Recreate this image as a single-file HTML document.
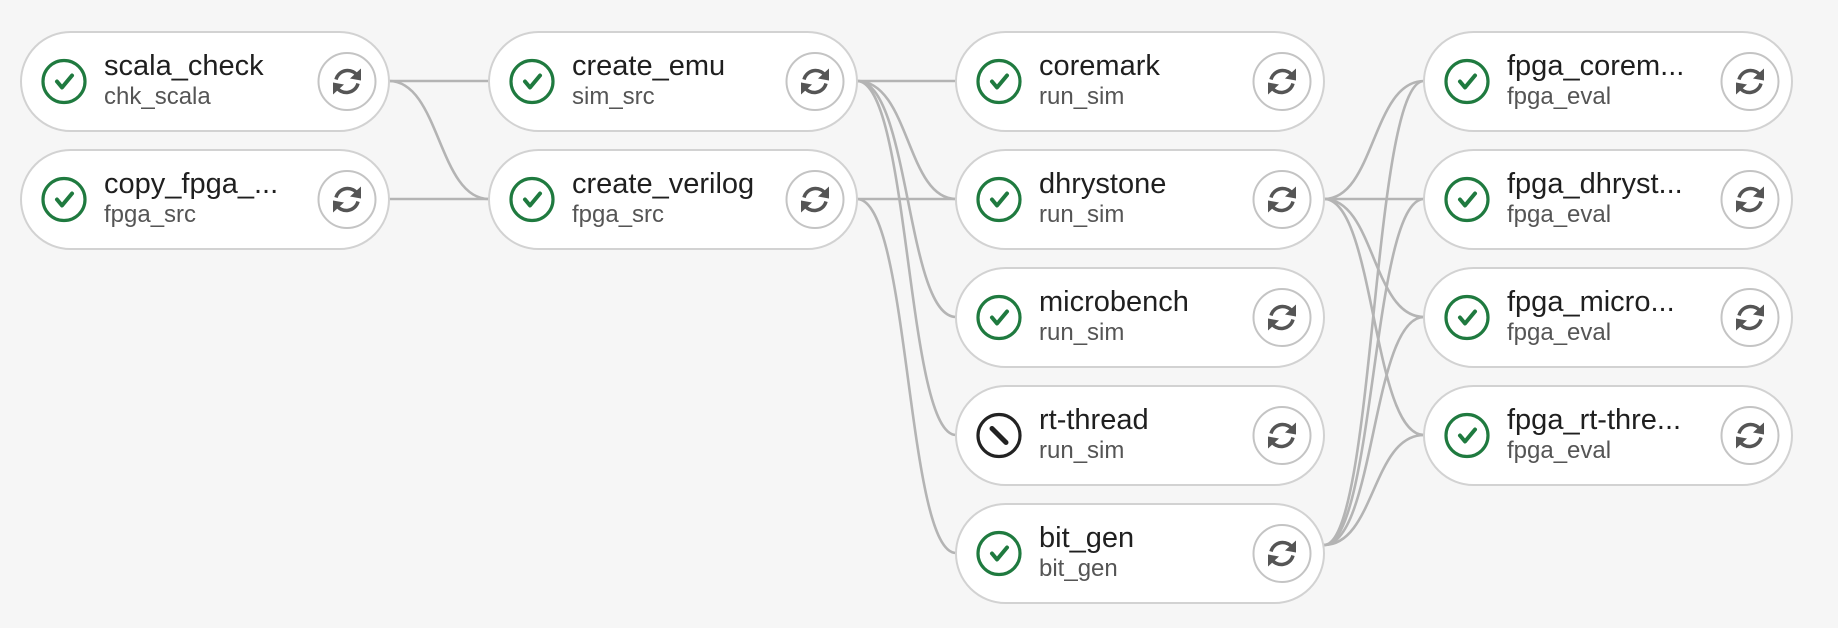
<!DOCTYPE html>
<html><head><meta charset="utf-8"><style>
html,body{margin:0;padding:0;background:#f6f6f6;}
svg{display:block}
text{font-family:"Liberation Sans",sans-serif}
</style></head><body>
<svg width="1838" height="628" viewBox="0 0 1838 628" xmlns="http://www.w3.org/2000/svg">
<rect width="1838" height="628" fill="#f6f6f6"/>
<defs>
<g id="retry">
<circle r="28.5" fill="#fff" stroke="#c4c4c4" stroke-width="2"/>
<path d="M-11,5 A12,12 0 0 0 11,2" fill="none" stroke="#555" stroke-width="3.5"/>
<path d="M11,-5 A12,12 0 0 0 -11,-2" fill="none" stroke="#555" stroke-width="3.5"/>
<path d="M14,-13 L14,-1 L3,-3 Z" fill="#555"/>
<path d="M-14,13 L-14,1 L-3,3 Z" fill="#555"/>
</g>
<g id="ok">
<circle r="21" fill="#fff" stroke="#1f7a3f" stroke-width="3.2"/>
<path d="M-7,0 L-2,6 L8,-6" fill="none" stroke="#1f7a3f" stroke-width="4" stroke-linecap="round" stroke-linejoin="round"/>
</g>
<g id="skip">
<circle r="21" fill="#fff" stroke="#222" stroke-width="3.2"/>
<path d="M-7,-7 L7,7" stroke="#222" stroke-width="5" stroke-linecap="round"/>
</g>
</defs>
<g fill="none" stroke="#b4b4b4" stroke-width="2.6">
<path d="M389,81 L489,81"/>
<path d="M389,81 C440,81 438,199 489,199"/>
<path d="M389,199 L489,199"/>
<path d="M857,81 L956,81"/>
<path d="M857,81 C910,81 906,199 956,199"/>
<path d="M857,81 C910,81 906,317 956,317"/>
<path d="M857,81 C910,81 906,435 956,435"/>
<path d="M857,199 L956,199"/>
<path d="M857,199 C910,199 906,553 956,553"/>
<path d="M1324,199 C1375,199 1372,81 1424,81"/>
<path d="M1324,199 L1424,199"/>
<path d="M1324,199 C1375,199 1372,317 1424,317"/>
<path d="M1324,199 C1375,199 1372,435 1424,435"/>
<path d="M1324,545 C1375,545 1372,81 1424,81"/>
<path d="M1324,545 C1375,545 1372,199 1424,199"/>
<path d="M1324,545 C1375,545 1372,317 1424,317"/>
<path d="M1324,545 C1375,545 1372,435 1424,435"/>
</g>
<g>
<g transform="translate(21,32)"><rect width="368" height="99" rx="49.5" fill="#fff" stroke="#d2d2d2" stroke-width="2"/><use href="#ok" x="43" y="49.5"/><text x="83" y="43" font-size="29" fill="#1f1f1f">scala_check</text><text x="83" y="72" font-size="24" fill="#555">chk_scala</text><use href="#retry" x="326" y="49.5"/></g>
<g transform="translate(21,150)"><rect width="368" height="99" rx="49.5" fill="#fff" stroke="#d2d2d2" stroke-width="2"/><use href="#ok" x="43" y="49.5"/><text x="83" y="43" font-size="29" fill="#1f1f1f">copy_fpga_...</text><text x="83" y="72" font-size="24" fill="#555">fpga_src</text><use href="#retry" x="326" y="49.5"/></g>
<g transform="translate(489,32)"><rect width="368" height="99" rx="49.5" fill="#fff" stroke="#d2d2d2" stroke-width="2"/><use href="#ok" x="43" y="49.5"/><text x="83" y="43" font-size="29" fill="#1f1f1f">create_emu</text><text x="83" y="72" font-size="24" fill="#555">sim_src</text><use href="#retry" x="326" y="49.5"/></g>
<g transform="translate(489,150)"><rect width="368" height="99" rx="49.5" fill="#fff" stroke="#d2d2d2" stroke-width="2"/><use href="#ok" x="43" y="49.5"/><text x="83" y="43" font-size="29" fill="#1f1f1f">create_verilog</text><text x="83" y="72" font-size="24" fill="#555">fpga_src</text><use href="#retry" x="326" y="49.5"/></g>
<g transform="translate(956,32)"><rect width="368" height="99" rx="49.5" fill="#fff" stroke="#d2d2d2" stroke-width="2"/><use href="#ok" x="43" y="49.5"/><text x="83" y="43" font-size="29" fill="#1f1f1f">coremark</text><text x="83" y="72" font-size="24" fill="#555">run_sim</text><use href="#retry" x="326" y="49.5"/></g>
<g transform="translate(956,150)"><rect width="368" height="99" rx="49.5" fill="#fff" stroke="#d2d2d2" stroke-width="2"/><use href="#ok" x="43" y="49.5"/><text x="83" y="43" font-size="29" fill="#1f1f1f">dhrystone</text><text x="83" y="72" font-size="24" fill="#555">run_sim</text><use href="#retry" x="326" y="49.5"/></g>
<g transform="translate(956,268)"><rect width="368" height="99" rx="49.5" fill="#fff" stroke="#d2d2d2" stroke-width="2"/><use href="#ok" x="43" y="49.5"/><text x="83" y="43" font-size="29" fill="#1f1f1f">microbench</text><text x="83" y="72" font-size="24" fill="#555">run_sim</text><use href="#retry" x="326" y="49.5"/></g>
<g transform="translate(956,386)"><rect width="368" height="99" rx="49.5" fill="#fff" stroke="#d2d2d2" stroke-width="2"/><use href="#skip" x="43" y="49.5"/><text x="83" y="43" font-size="29" fill="#1f1f1f">rt-thread</text><text x="83" y="72" font-size="24" fill="#555">run_sim</text><use href="#retry" x="326" y="49.5"/></g>
<g transform="translate(956,504)"><rect width="368" height="99" rx="49.5" fill="#fff" stroke="#d2d2d2" stroke-width="2"/><use href="#ok" x="43" y="49.5"/><text x="83" y="43" font-size="29" fill="#1f1f1f">bit_gen</text><text x="83" y="72" font-size="24" fill="#555">bit_gen</text><use href="#retry" x="326" y="49.5"/></g>
<g transform="translate(1424,32)"><rect width="368" height="99" rx="49.5" fill="#fff" stroke="#d2d2d2" stroke-width="2"/><use href="#ok" x="43" y="49.5"/><text x="83" y="43" font-size="29" fill="#1f1f1f">fpga_corem...</text><text x="83" y="72" font-size="24" fill="#555">fpga_eval</text><use href="#retry" x="326" y="49.5"/></g>
<g transform="translate(1424,150)"><rect width="368" height="99" rx="49.5" fill="#fff" stroke="#d2d2d2" stroke-width="2"/><use href="#ok" x="43" y="49.5"/><text x="83" y="43" font-size="29" fill="#1f1f1f">fpga_dhryst...</text><text x="83" y="72" font-size="24" fill="#555">fpga_eval</text><use href="#retry" x="326" y="49.5"/></g>
<g transform="translate(1424,268)"><rect width="368" height="99" rx="49.5" fill="#fff" stroke="#d2d2d2" stroke-width="2"/><use href="#ok" x="43" y="49.5"/><text x="83" y="43" font-size="29" fill="#1f1f1f">fpga_micro...</text><text x="83" y="72" font-size="24" fill="#555">fpga_eval</text><use href="#retry" x="326" y="49.5"/></g>
<g transform="translate(1424,386)"><rect width="368" height="99" rx="49.5" fill="#fff" stroke="#d2d2d2" stroke-width="2"/><use href="#ok" x="43" y="49.5"/><text x="83" y="43" font-size="29" fill="#1f1f1f">fpga_rt-thre...</text><text x="83" y="72" font-size="24" fill="#555">fpga_eval</text><use href="#retry" x="326" y="49.5"/></g>
</g>
</svg>
</body></html>
